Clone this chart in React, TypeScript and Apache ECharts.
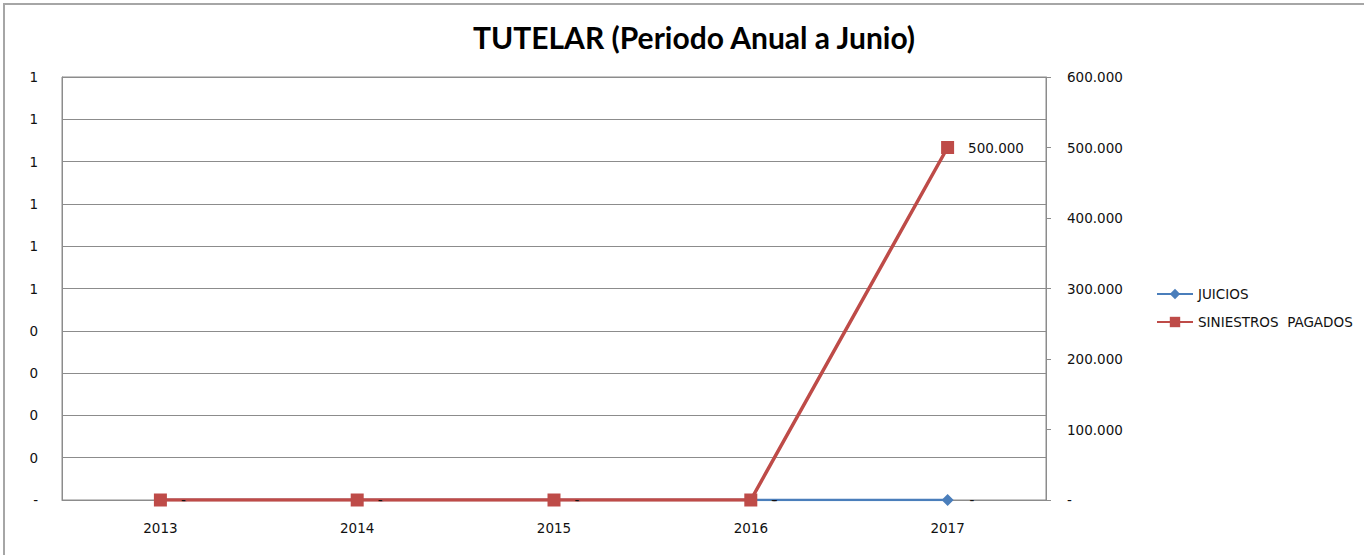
import React, { useEffect, useRef } from "react";
import * as echarts from "echarts";

const years = ["2013", "2014", "2015", "2016", "2017"];
const juicios = [0, 0, 0, 0, 0];
const siniestrosPagados = [0, 0, 0, 0, 500000];
const titleText = "TUTELAR (Periodo Anual a Junio)";
const seriesNames = ["JUICIOS", "SINIESTROS  PAGADOS"];

const fmtThousands = (v: number) =>
  v === 0 ? "-" : Math.round(v).toString().replace(/\B(?=(\d{3})+(?!\d))/g, ".");

const FONT = "DejaVu Sans";
const FS = 13.5;

export default function App() {
  const ref = useRef<HTMLDivElement>(null);
  useEffect(() => {
    document.body.style.margin = "0";
    const chart = echarts.init(ref.current!, null, { renderer: "svg" });
    chart.setOption({
      animation: false,
      backgroundColor: "#ffffff",
      textStyle: { fontFamily: FONT },
      title: {
        text: titleText,
        left: 689,
        textAlign: "center",
        top: 17,
        textStyle: { fontFamily: "Lato", fontWeight: "bold", fontSize: 30, color: "#000" },
      },
      graphic: [
        {
          type: "polyline",
          shape: { points: [[4, 570], [4, 4], [1370, 4]] },
          style: { stroke: "#a6a6a6", lineWidth: 2, fill: "none" },
          silent: true,
        },
      ],
      legend: {
        orient: "vertical",
        left: 1151,
        top: 282,
        itemGap: 14,
        itemWidth: 36,
        itemHeight: 13,
        textStyle: { fontFamily: FONT, fontSize: FS, color: "#111" },
        data: seriesNames,
      },
      grid: {
        left: 62,
        top: 77,
        width: 984,
        height: 423,
        show: true,
        borderColor: "#8c8c8c",
        borderWidth: 1,
      },
      xAxis: {
        type: "category",
        data: years,
        boundaryGap: true,
        axisLine: { lineStyle: { color: "#8c8c8c" } },
        axisTick: { show: false },
        axisLabel: { color: "#111", fontSize: FS, fontFamily: FONT, margin: 21 },
      },
      yAxis: [
        {
          type: "value",
          min: 0,
          max: 1,
          interval: 0.1,
          position: "left",
          axisLine: { show: true, lineStyle: { color: "#8c8c8c" } },
          axisTick: { show: false },
          splitLine: { show: true, lineStyle: { color: "#8c8c8c", width: 1 } },
          axisLabel: {
            color: "#111",
            fontSize: FS,
            fontFamily: FONT,
            margin: 24,
            formatter: (v: number) => (v === 0 ? "-" : String(Math.round(v))),
          },
        },
        {
          type: "value",
          min: 0,
          max: 600000,
          interval: 100000,
          position: "right",
          axisLine: { show: true, lineStyle: { color: "#8c8c8c" } },
          axisTick: { show: true, length: 5, lineStyle: { color: "#8c8c8c" } },
          splitLine: { show: false },
          axisLabel: {
            color: "#111",
            fontSize: FS,
            fontFamily: FONT,
            margin: 21,
            formatter: (v: number) => fmtThousands(v),
          },
        },
      ],
      series: [
        {
          name: seriesNames[0],
          type: "line",
          yAxisIndex: 0,
          data: juicios,
          color: "#4a7ebb",
          symbol: "diamond",
          symbolSize: 12,
          lineStyle: { width: 2.5, color: "#4a7ebb" },
          itemStyle: { color: "#4a7ebb" },
          label: {
            show: true,
            position: "right",
            distance: 16,
            color: "#111",
            fontSize: FS,
            fontFamily: FONT,
            formatter: () => "-",
          },
          z: 2,
        },
        {
          name: seriesNames[1],
          type: "line",
          yAxisIndex: 1,
          data: siniestrosPagados,
          color: "#be4b48",
          symbol: "rect",
          symbolSize: 13,
          lineStyle: { width: 3.5, color: "#be4b48" },
          itemStyle: { color: "#be4b48" },
          label: {
            show: true,
            position: "right",
            distance: 14,
            color: "#111",
            fontSize: FS,
            fontFamily: FONT,
            formatter: (p: any) => fmtThousands(p.value),
          },
          z: 3,
        },
      ],
    });
    return () => chart.dispose();
  }, []);
  return <div ref={ref} style={{ width: 1364, height: 555 }} />;
}
